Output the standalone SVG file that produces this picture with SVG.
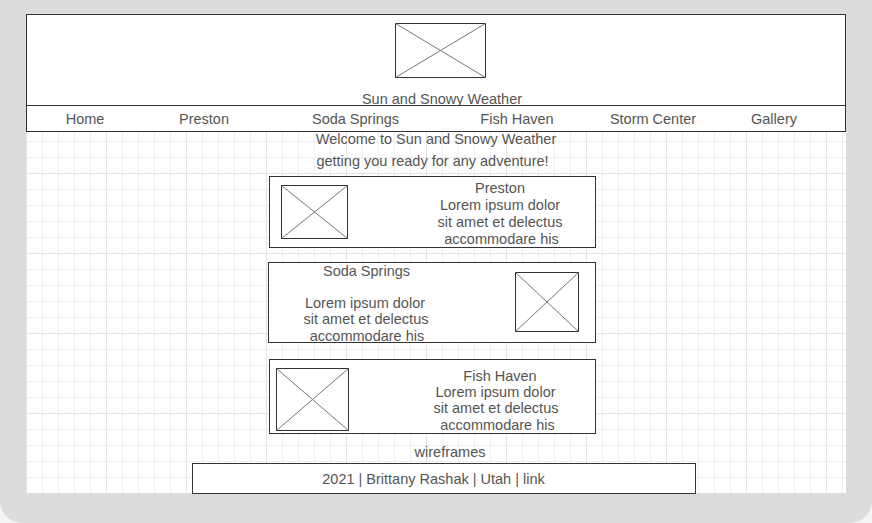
<svg xmlns="http://www.w3.org/2000/svg" width="872" height="523" viewBox="0 0 872 523">
  <defs>
    <style>
      .box { fill: #ffffff; stroke: #333333; stroke-width: 1; }
      .img { fill: #ffffff; stroke: #333333; stroke-width: 1; }
      .x { stroke: #777777; stroke-width: 1; fill: none; }
      .t { font-family: "Liberation Sans", Arial, sans-serif; font-size: 14.5px; fill: #555555; text-anchor: middle; }
    </style>
    <pattern id="grid" patternUnits="userSpaceOnUse" x="26" y="13" width="80" height="80">
      <path d="M16.5 0V80M32.5 0V80M48.5 0V80M64.5 0V80M0 16.5H80M0 32.5H80M0 48.5H80M0 64.5H80" stroke="#efefef" stroke-width="1" fill="none"/>
      <path d="M0.5 0V80M0 0.5H80" stroke="#e4e4e4" stroke-width="1" fill="none"/>
    </pattern>
  </defs>

  <!-- background -->
  <rect x="0" y="0" width="872" height="523" fill="#f4f4f4"/>
  <path d="M0 0H872V501A22 22 0 0 1 850 523H22A22 22 0 0 1 0 501Z" fill="#dcdcdc"/>
  <rect x="26" y="13" width="820" height="480" fill="#ffffff"/>
  <rect x="26" y="13" width="820" height="480" fill="url(#grid)"/>

  <g id="header">
    <rect class="box" x="26.5" y="14.5" width="819" height="91"/>
    <g id="header-image">
      <rect class="img" x="395.5" y="23.5" width="90" height="54"/>
      <path class="x" d="M395.5 23.5L485.5 77.5M485.5 23.5L395.5 77.5"/>
    </g>
    <text class="t" x="442" y="103.5">Sun and Snowy Weather</text>
  </g>

  <g id="nav">
    <rect class="box" x="26.5" y="105.5" width="819" height="26"/>
    <text class="t" x="85" y="123.5">Home</text>
    <text class="t" x="204" y="123.5">Preston</text>
    <text class="t" x="355.5" y="124">Soda Springs</text>
    <text class="t" x="517" y="123.5">Fish Haven</text>
    <text class="t" x="653" y="123.5">Storm Center</text>
    <text class="t" x="774" y="124">Gallery</text>
  </g>

  <g id="welcome">
    <text class="t" x="436" y="144">Welcome to Sun and Snowy Weather</text>
    <text class="t" x="432.5" y="165.5">getting you ready for any adventure!</text>
  </g>

  <g id="card-preston">
    <rect class="box" x="269.5" y="176.5" width="326" height="71"/>
    <rect class="img" x="281.5" y="185.5" width="66" height="53"/>
    <path class="x" d="M281.5 185.5L347.5 238.5M347.5 185.5L281.5 238.5"/>
    <text class="t" x="500" y="193">Preston</text>
    <text class="t" x="500" y="210">Lorem ipsum dolor</text>
    <text class="t" x="500" y="227">sit amet et delectus</text>
    <text class="t" x="501.5" y="243.5">accommodare his</text>
  </g>

  <g id="card-soda-springs">
    <rect class="box" x="268.5" y="262.5" width="327" height="80"/>
    <rect class="img" x="515.5" y="272.5" width="63" height="59"/>
    <path class="x" d="M515.5 272.5L578.5 331.5M578.5 272.5L515.5 331.5"/>
    <text class="t" x="366.5" y="276">Soda Springs</text>
    <text class="t" x="365" y="307.5">Lorem ipsum dolor</text>
    <text class="t" x="366" y="324">sit amet et delectus</text>
    <text class="t" x="367" y="340.5">accommodare his</text>
  </g>

  <g id="card-fish-haven">
    <rect class="box" x="269.5" y="359.5" width="326" height="74"/>
    <rect class="img" x="276.5" y="368.5" width="72" height="62"/>
    <path class="x" d="M276.5 368.5L348.5 430.5M348.5 368.5L276.5 430.5"/>
    <text class="t" x="500" y="381">Fish Haven</text>
    <text class="t" x="495.5" y="396.5">Lorem ipsum dolor</text>
    <text class="t" x="496" y="413">sit amet et delectus</text>
    <text class="t" x="497.5" y="429.5">accommodare his</text>
  </g>

  <g id="wireframes-label">
    <text class="t" x="450" y="457">wireframes</text>
  </g>

  <g id="footer">
    <rect class="box" x="192.5" y="463.5" width="503" height="30"/>
    <text class="t" x="433.5" y="484">2021 | Brittany Rashak | Utah | link</text>
  </g>
</svg>
